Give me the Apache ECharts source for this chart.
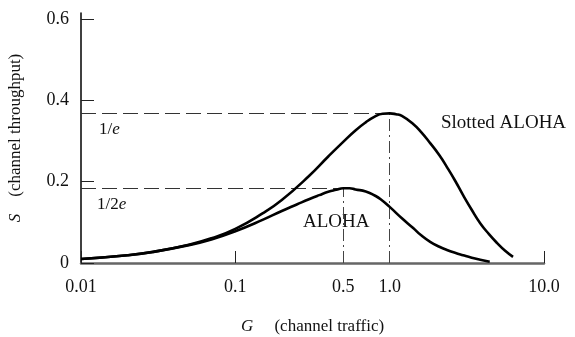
<!DOCTYPE html>
<html>
<head>
<meta charset="utf-8">
<script src="https://cdn.jsdelivr.net/npm/echarts@6/dist/echarts.min.js"></script>
<style>
  html, body { margin: 0; padding: 0; background: #fff; }
  #chart { width: 575px; height: 337px; }
</style>
</head>
<body>
<div id="chart"></div>
<script>
// Offered load G (log scale) against throughput S for the two ALOHA variants.
const slottedG = [0.01, 0.02, 0.03, 0.05, 0.07, 0.1, 0.15, 0.2, 0.3, 0.4, 0.5, 0.6, 0.7, 0.8, 0.9, 1.0, 1.1, 1.2, 1.42, 1.6, 1.83, 2.1, 2.35, 2.65, 2.99, 3.4, 3.86, 4.4, 4.97, 5.6, 6.3];
const slottedS = [0.010, 0.019, 0.028, 0.045, 0.061, 0.084, 0.122, 0.155, 0.214, 0.262, 0.298, 0.326, 0.346, 0.360, 0.367, 0.368, 0.366, 0.362, 0.342, 0.322, 0.295, 0.265, 0.236, 0.203, 0.167, 0.131, 0.098, 0.071, 0.049, 0.030, 0.015];

const alohaG = [0.01, 0.02, 0.03, 0.05, 0.07, 0.1, 0.15, 0.2, 0.25, 0.3, 0.35, 0.4, 0.45, 0.5, 0.55, 0.6, 0.7, 0.8, 0.874, 1.0, 1.2, 1.42, 1.6, 1.83, 2.1, 2.35, 2.65, 2.99, 3.4, 3.86, 4.45];
const alohaS = [0.0098, 0.019, 0.028, 0.044, 0.058, 0.078, 0.106, 0.128, 0.144, 0.157, 0.167, 0.175, 0.180, 0.184, 0.184, 0.181, 0.176, 0.166, 0.157, 0.138, 0.110, 0.086, 0.068, 0.052, 0.040, 0.032, 0.025, 0.019, 0.013, 0.008, 0.003];

const xTickLabels = { 0.01: '0.01', 0.1: '0.1', 1: '1.0', 10: '10.0' };
const yTickValues = [0, 0.2, 0.4, 0.6];

// Peak of each curve (value and the load where it occurs)
function peakOf(gs, ss) {
  let k = 0;
  for (let i = 1; i < ss.length; i++) if (ss[i] > ss[k]) k = i;
  return { g: gs[k], s: ss[k] };
}
const slottedPeak = peakOf(slottedG, slottedS);
const alohaPeak = peakOf(alohaG, alohaS);

const SERIF = '"Liberation Serif", "Times New Roman", serif';
const INK = '#111';

const chart = echarts.init(document.getElementById('chart'), null, { renderer: 'canvas' });

const dashed = { color: '#333', width: 1, type: [15, 6] };
const dashDot = { color: '#444', width: 1, type: [12, 4, 2, 4] };

chart.setOption({
  animation: false,
  backgroundColor: '#fff',
  grid: { left: 81, right: 31, top: 13, bottom: 74, outerBoundsMode: 'none' },
  xAxis: {
    type: 'log',
    logBase: 10,
    min: 0.01,
    max: 10,
    name: '{i|G}     (channel traffic)',
    nameLocation: 'middle',
    nameGap: 55,
    nameTextStyle: {
      fontFamily: SERIF, fontSize: 17, color: INK,
      rich: { i: { fontFamily: SERIF, fontSize: 17, fontStyle: 'italic', color: INK } }
    },
    axisLine: { lineStyle: { color: '#666', width: 2.5 } },
    axisTick: { inside: true, length: 12, lineStyle: { color: '#222', width: 1 } },
    minorTick: { show: false },
    splitLine: { show: false },
    axisLabel: {
      margin: 15,
      fontFamily: SERIF, fontSize: 18, color: INK,
      formatter: v => xTickLabels[v] !== undefined ? xTickLabels[v] : ''
    }
  },
  yAxis: {
    type: 'value',
    min: 0,
    max: 0.615,
    name: '{i|S}    (channel throughput)',
    nameLocation: 'middle',
    nameGap: 57,
    nameRotate: 90,
    nameTextStyle: {
      fontFamily: SERIF, fontSize: 17, color: INK,
      rich: { i: { fontFamily: SERIF, fontSize: 17, fontStyle: 'italic', color: INK } }
    },
    axisLine: { show: true, lineStyle: { color: '#000', width: 1.5 } },
    axisTick: { show: true, inside: true, length: 13, customValues: yTickValues, lineStyle: { color: '#222', width: 1 } },
    splitLine: { show: false },
    axisLabel: {
      margin: 12,
      fontFamily: SERIF, fontSize: 18, color: INK,
      customValues: yTickValues,
      formatter: v => (v === 0 ? '0' : String(v))
    }
  },
  series: [
    {
      name: 'Slotted ALOHA',
      type: 'line',
      data: slottedG.map((g, i) => [g, slottedS[i]]),
      symbol: 'none',
      smooth: 0.5,
      lineStyle: { color: '#000', width: 2.6 },
      z: 5,
      markLine: {
        silent: true,
        symbol: ['none', 'none'],
        label: { show: false },
        data: [
          [{ coord: [0.01, slottedPeak.s], lineStyle: dashed }, { coord: [slottedPeak.g, slottedPeak.s] }],
          [{ coord: [slottedPeak.g, 0], lineStyle: dashDot }, { coord: [slottedPeak.g, slottedPeak.s] }]
        ]
      }
    },
    {
      name: 'ALOHA',
      type: 'line',
      data: alohaG.map((g, i) => [g, alohaS[i]]),
      symbol: 'none',
      smooth: 0.5,
      lineStyle: { color: '#000', width: 2.6 },
      z: 5,
      markLine: {
        silent: true,
        symbol: ['none', 'none'],
        data: [
          [{ coord: [0.01, alohaPeak.s], lineStyle: dashed, label: { show: false } }, { coord: [alohaPeak.g, alohaPeak.s] }],
          [{
            coord: [alohaPeak.g, 0], lineStyle: dashDot,
            label: {
              show: true, position: 'start', distance: 15,
              formatter: String(alohaPeak.g),
              fontFamily: SERIF, fontSize: 18, color: INK
            }
          }, { coord: [alohaPeak.g, alohaPeak.s] }]
        ]
      }
    }
  ],
  graphic: [
    {
      type: 'text', left: 441, top: 114,
      style: { text: 'Slotted ALOHA', font: '19px ' + SERIF, fill: INK }
    },
    {
      type: 'text', left: 303, top: 213,
      style: { text: 'ALOHA', font: '19px ' + SERIF, fill: INK }
    },
    {
      type: 'text', left: 99, top: 121,
      style: {
        text: '1/{i|e}', font: '17px ' + SERIF, fill: INK,
        rich: { i: { fontFamily: SERIF, fontSize: 17, fontStyle: 'italic', fill: INK } }
      }
    },
    {
      type: 'text', left: 97, top: 196,
      style: {
        text: '1/2{i|e}', font: '17px ' + SERIF, fill: INK,
        rich: { i: { fontFamily: SERIF, fontSize: 17, fontStyle: 'italic', fill: INK } }
      }
    }
  ]
});
</script>
</body>
</html>
